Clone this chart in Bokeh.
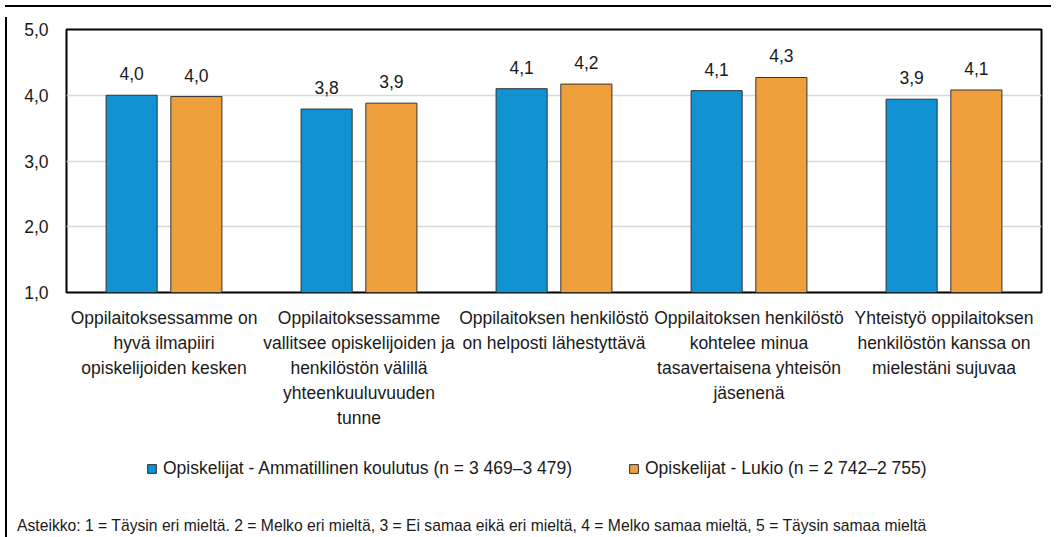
from bokeh.plotting import figure
from bokeh.layouts import column, row
from bokeh.models import (FactorRange, ColumnDataSource, LabelSet, Legend, LegendItem,
                          FixedTicker, CustomJSTickFormatter, Range1d, Div)
from bokeh.transform import dodge
from bokeh.core.properties import value
from bokeh.embed import file_html
from bokeh.resources import INLINE

# ---------------- data ----------------
categories = [
    "Oppilaitoksessamme on\nhyvä ilmapiiri\nopiskelijoiden kesken",
    "Oppilaitoksessamme\nvallitsee opiskelijoiden ja\nhenkilöstön välillä\nyhteenkuuluvuuden\ntunne",
    "Oppilaitoksen henkilöstö\non helposti lähestyttävä",
    "Oppilaitoksen henkilöstö\nkohtelee minua\ntasavertaisena yhteisön\njäsenenä",
    "Yhteistyö oppilaitoksen\nhenkilöstön kanssa on\nmielestäni sujuvaa",
]
series_names = [
    "Opiskelijat - Ammatillinen koulutus (n = 3 469–3 479)",
    "Opiskelijat - Lukio (n = 2 742–2 755)",
]
ammatillinen = [4.00, 3.79, 4.10, 4.07, 3.94]
lukio = [3.98, 3.88, 4.17, 4.27, 4.08]
y_ticks = [1, 2, 3, 4, 5]
footnote = ("Asteikko: 1 = Täysin eri mieltä. 2 = Melko eri mieltä, 3 = Ei samaa eikä eri mieltä, "
            "4 = Melko samaa mieltä, 5 = Täysin samaa mieltä")

# ---------------- style ----------------
FONT = "Liberation Sans"
FS = "17.5px"
TXT = "#1a1a1a"
BLUE = "#1192D2"
ORANGE = "#EFA03C"
EDGE = "#333333"
OFF = 0.166
BW = 0.262
W = 1044
H1, H2, H3 = 428, 72, 24

def fmt(v):
    return f"{v:.1f}".replace(".", ",")

src = ColumnDataSource(dict(
    cat=categories,
    a=ammatillinen,
    l=lukio,
    a_lbl=[fmt(v) for v in ammatillinen],
    l_lbl=[fmt(v) for v in lukio],
))

# ---------------- main chart ----------------
p = figure(width=W, height=H1, x_range=FactorRange(factors=categories),
           y_range=Range1d(1, 5), output_backend="svg", toolbar_location=None,
           min_border_left=54, min_border_right=15, min_border_top=17, min_border_bottom=148)

r1 = p.vbar(x=dodge("cat", -OFF, range=p.x_range), top="a", bottom=1, width=BW, source=src,
            fill_color=BLUE, line_color=EDGE, line_width=1)
r2 = p.vbar(x=dodge("cat", OFF, range=p.x_range), top="l", bottom=1, width=BW, source=src,
            fill_color=ORANGE, line_color=EDGE, line_width=1)

for col, off in (("a", -OFF), ("l", OFF)):
    p.add_layout(LabelSet(x=dodge("cat", off, range=p.x_range), y=col, text=col + "_lbl",
                          source=src, text_align="center", text_baseline="alphabetic",
                          y_offset=15, text_font=value(FONT), text_font_size=FS,
                          text_color=TXT))

p.outline_line_color = "black"
p.outline_line_width = 2
p.xgrid.grid_line_color = None
p.ygrid.grid_line_color = "#d9d9d9"
p.ygrid.grid_line_width = 1.5

p.yaxis.ticker = FixedTicker(ticks=y_ticks)
p.yaxis.formatter = CustomJSTickFormatter(code="return tick.toFixed(1).replace('.', ',');")
for ax in (p.xaxis, p.yaxis):
    ax.axis_line_color = None
    ax.major_tick_line_color = None
    ax.minor_tick_line_color = None
    ax.major_tick_out = 0
    ax.major_tick_in = 0
    ax.major_label_text_font = FONT
    ax.major_label_text_font_size = FS
    ax.major_label_text_color = TXT
p.yaxis.major_label_standoff = 18
p.xaxis.major_label_standoff = 15
p.xaxis.major_label_text_line_height = 1.25

# ---------------- legend strip ----------------
q = figure(width=W, height=H2, x_range=Range1d(0, W), y_range=Range1d(0, H2),
           output_backend="svg", toolbar_location=None,
           x_axis_location=None, y_axis_location=None,
           min_border=0, min_border_left=0, min_border_right=0,
           min_border_top=0, min_border_bottom=0)
q.outline_line_color = None
q.grid.visible = False

# legend swatches (kept outside the visible range)
s1 = q.vbar(x=[-100], top=[-100], width=1, fill_color=BLUE, line_color=EDGE, line_width=1)
s2 = q.vbar(x=[-100], top=[-100], width=1, fill_color=ORANGE, line_color=EDGE, line_width=1)

for r, name, x in ((s1, series_names[0], 80), (s2, series_names[1], 562)):
    lg = Legend(items=[LegendItem(label=name, renderers=[r])], location=(x, 33),
                orientation="horizontal", padding=0, margin=0, spacing=0,
                border_line_color=None, background_fill_alpha=0,
                glyph_width=11, glyph_height=11, label_standoff=6,
                label_text_font=FONT, label_text_font_size=FS,
                label_text_color=TXT, label_height=20)
    q.add_layout(lg, "center")

# ---------------- footnote ----------------
note = Div(text=footnote, width=W, height=H3,
           styles={"font-family": FONT, "font-size": "15.7px", "color": TXT,
                   "line-height": "18px", "white-space": "nowrap", "padding-left": "0px"})

# ---------------- outer border (left + top) ----------------
top_line = Div(width=W + 2, height=2, styles={"background-color": "black"})
left_line = Div(width=2, height=H1 + H2 + H3, styles={"background-color": "black"})

layout = column(top_line, row(left_line, column(p, q, note)))

open("out.html", "w").write(file_html(layout, INLINE))
